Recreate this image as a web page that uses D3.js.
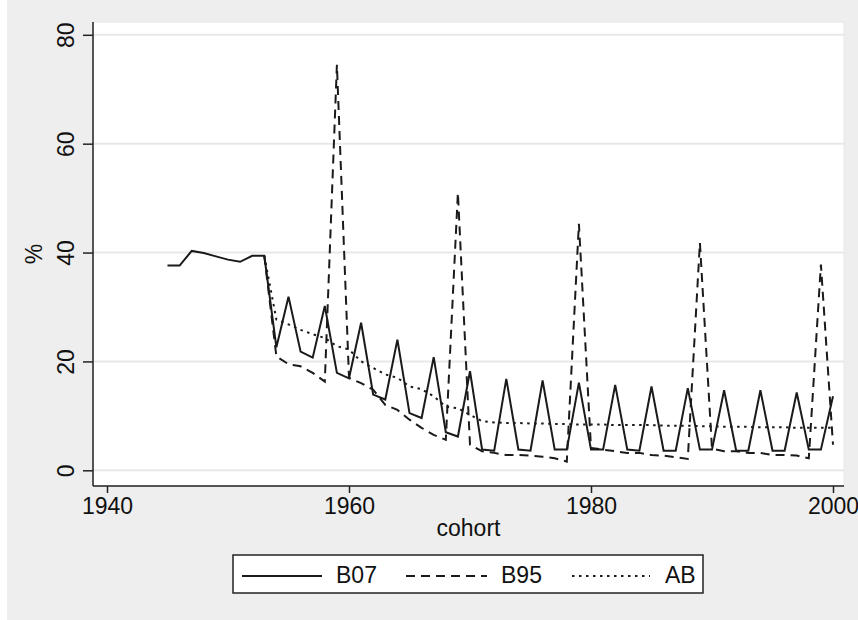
<!DOCTYPE html>
<html>
<head>
<meta charset="utf-8">
<script src="https://cdn.jsdelivr.net/npm/d3@7"></script>
<style>
  body { margin: 0; background: #fff; }
  svg text { font-family: Arial, "Liberation Sans", sans-serif; fill: #111; }
</style>
</head>
<body>
<div class="container"></div>
<script>
// cohort years 1945-2000
const years = d3.range(1945, 2001)

const b07 = [37.6, 37.6, 40.3, 39.9, 39.3, 38.7, 38.3, 39.4, 39.4, 22.6,
             31.9, 21.8, 20.7, 30.2, 17.9, 16.9, 27.1, 13.9, 13.0, 24.0,
             10.5, 9.6, 20.8, 7.0, 6.2, 18.2, 3.8, 3.6, 16.8, 3.8,
             3.6, 16.5, 3.8, 3.8, 16.1, 3.8, 3.8, 15.7, 3.8, 3.6,
             15.4, 3.6, 3.6, 15.1, 3.8, 3.8, 14.7, 3.6, 3.6, 14.7,
             3.6, 3.6, 14.3, 3.8, 3.8, 13.6]

const b95 = [null, null, null, null, null, null, null, null, 39.4, 20.9,
             19.5, 19.1, 17.9, 16.3, 74.5, 17.0, 16.0, 14.8, 12.0, 11.1,
             9.3, 7.8, 6.5, 5.6, 51.0, 4.7, 3.5, 3.2, 2.8, 2.8,
             2.7, 2.5, 2.2, 1.6, 45.3, 4.1, 3.8, 3.5, 3.2, 3.2,
             2.8, 2.7, 2.4, 2.1, 41.8, 4.0, 3.5, 3.5, 3.2, 3.2,
             2.8, 2.8, 2.7, 2.2, 37.8, 4.7]

const ab = [null, null, null, null, null, null, null, null, 39.4, 27.7,
            26.8, 25.8, 25.0, 24.3, 22.8, 22.2, 20.0, 18.8, 17.6, 17.0,
            15.4, 14.9, 13.6, 11.7, 11.4, 10.2, 9.0, 8.8, 8.7, 8.7,
            8.6, 8.6, 8.5, 8.5, 8.4, 8.4, 8.4, 8.3, 8.3, 8.3,
            8.3, 8.2, 8.2, 8.2, 8.1, 8.1, 8.0, 8.0, 8.0, 7.9,
            7.9, 7.9, 7.8, 7.8, 7.8, 7.8]

const xTicks = [1940, 1960, 1980, 2000]
const yTicks = [0, 20, 40, 60, 80]
const seriesNames = ["B07", "B95", "AB"]

const W = 858, H = 620
const plot = {left: 93, right: 844, top: 22, bottom: 486}

const svg = d3.select(".container")
    .append("svg")
    .attr("width", W)
    .attr("height", H)

// backgrounds
svg.append("rect")
    .attr("x", 7).attr("y", 0)
    .attr("width", W - 7).attr("height", H)
    .attr("fill", "#eeeeee")

svg.append("rect")
    .attr("x", plot.left).attr("y", plot.top)
    .attr("width", plot.right - plot.left)
    .attr("height", plot.bottom - plot.top)
    .attr("fill", "#fff")
    .attr("stroke", "#e6e6e6")

// Scales
const xScale = d3.scaleLinear()
    .domain([1940, 2000])
    .range([107, 833])

const yScale = d3.scaleLinear()
    .domain([0, 80])
    .range([470.3, 34.8])

// Grid lines
svg.append("g")
    .selectAll("line")
    .data(yTicks)
    .enter()
    .append("line")
    .attr("x1", plot.left)
    .attr("x2", plot.right)
    .attr("y1", d => yScale(d))
    .attr("y2", d => yScale(d))
    .attr("stroke", "#e8e8e8")
    .attr("stroke-width", 2)

// Axes
const xAxis = d3.axisBottom(xScale)
    .tickValues(xTicks)
    .tickFormat(d3.format("d"))
    .tickSize(7)
    .tickPadding(4)

const yAxis = d3.axisLeft(yScale)
    .tickValues(yTicks)
    .tickSize(10)
    .tickPadding(0)

let x = svg.append("g")
    .attr("transform", `translate(0, ${plot.bottom})`)
    .call(xAxis)

x.select(".domain").remove()
x.selectAll(".tick line").attr("stroke", "#222").attr("stroke-width", 1.5)
x.selectAll(".tick text")
    .attr("font-size", 23)
    .attr("dy", null)
    .attr("y", 28)
    .attr("fill", "#111")

let y = svg.append("g")
    .attr("transform", `translate(${plot.left}, 0)`)
    .call(yAxis)

y.select(".domain").remove()
y.selectAll(".tick line").attr("stroke", "#222").attr("stroke-width", 1.5)
y.selectAll(".tick text")
    .attr("font-size", 23)
    .attr("x", null)
    .attr("dy", null)
    .attr("text-anchor", "middle")
    .attr("transform", "translate(-19, 0) rotate(-90)")
    .attr("fill", "#111")

// axis lines
svg.append("line")
    .attr("x1", plot.left).attr("x2", plot.right)
    .attr("y1", plot.bottom).attr("y2", plot.bottom)
    .attr("stroke", "#222").attr("stroke-width", 1.5)

svg.append("line")
    .attr("x1", plot.left).attr("x2", plot.left)
    .attr("y1", plot.top).attr("y2", plot.bottom)
    .attr("stroke", "#222").attr("stroke-width", 1.5)

// axis titles
svg.append("text")
    .text("cohort")
    .attr("x", (plot.left + plot.right) / 2)
    .attr("y", 536)
    .attr("text-anchor", "middle")
    .attr("font-size", 23)

svg.append("text")
    .text("%")
    .attr("text-anchor", "middle")
    .attr("font-size", 23)
    .attr("transform", `translate(42, ${(plot.top + plot.bottom) / 2}) rotate(-90)`)

// Lines
const styles = [
    {name: "B07", values: b07, dash: null},
    {name: "B95", values: b95, dash: "9,6"},
    {name: "AB", values: ab, dash: "2.5,4.5"}
]

const line = d3.line()
    .defined(d => d[1] != null)
    .x(d => xScale(d[0]))
    .y(d => yScale(d[1]))

svg.append("g")
    .selectAll("path")
    .data(styles)
    .enter()
    .append("path")
    .attr("d", s => line(years.map((yr, i) => [yr, s.values[i]])))
    .attr("fill", "none")
    .attr("stroke", "#1a1a1a")
    .attr("stroke-width", 2)
    .attr("stroke-linejoin", "miter")
    .attr("stroke-dasharray", s => s.dash)

// Legend
const legend = svg.append("g")

legend.append("rect")
    .attr("x", 233).attr("y", 555)
    .attr("width", 470).attr("height", 38)
    .attr("fill", "#fff")
    .attr("stroke", "#222")
    .attr("stroke-width", 1.5)

const legendPos = [
    {x1: 242, x2: 322, tx: 336},
    {x1: 406, x2: 487, tx: 501},
    {x1: 572, x2: 650, tx: 665}
]

styles.forEach((s, i) => {
    const p = legendPos[i]
    legend.append("line")
        .attr("x1", p.x1).attr("x2", p.x2)
        .attr("y1", 576).attr("y2", 576)
        .attr("stroke", "#1a1a1a")
        .attr("stroke-width", 2)
        .attr("stroke-dasharray", s.dash)
    legend.append("text")
        .text(seriesNames[i])
        .attr("x", p.tx)
        .attr("y", 582.5)
        .attr("font-size", 23)
})
</script>
</body>
</html>
